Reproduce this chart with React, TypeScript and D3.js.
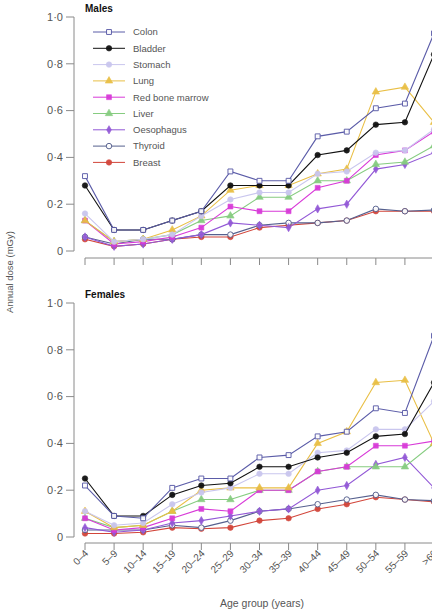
import * as d3 from 'd3'

// age groups on the x axis
const AGE_GROUPS = ['0–4', '5–9', '10–14', '15–19', '20–24', '25–29', '30–34', '35–39', '40–44', '45–49', '50–54', '55–59', '>60']

const ORGANS = ['Colon', 'Bladder', 'Stomach', 'Lung', 'Red bone marrow', 'Liver', 'Oesophagus', 'Thyroid', 'Breast']

const COLORS = ['#5b5ca8', '#111111', '#c9c6ee', '#e9bf45', '#d83ad8', '#86cc80', '#9258d6', '#56608e', '#d2453a']
const SYMBOLS = ['square', 'circle', 'circle', 'triangle', 'square', 'triangle', 'diamond', 'circle', 'circle']
const OPEN = [true, false, false, false, false, false, false, true, false]

// annual dose (mGy), males
const MALE_COLON = [0.32, 0.09, 0.09, 0.13, 0.17, 0.34, 0.30, 0.30, 0.49, 0.51, 0.61, 0.63, 0.93]
const MALE_BLADDER = [0.28, 0.09, 0.09, 0.13, 0.17, 0.28, 0.28, 0.28, 0.41, 0.43, 0.54, 0.55, 0.84]
const MALE_STOMACH = [0.16, 0.04, 0.05, 0.07, 0.15, 0.22, 0.25, 0.25, 0.33, 0.34, 0.42, 0.43, 0.52]
const MALE_LUNG = [0.13, 0.04, 0.05, 0.09, 0.15, 0.26, 0.28, 0.28, 0.33, 0.35, 0.68, 0.70, 0.55]
const MALE_MARROW = [0.13, 0.03, 0.04, 0.06, 0.10, 0.19, 0.17, 0.17, 0.27, 0.30, 0.41, 0.43, 0.51]
const MALE_LIVER = [0.13, 0.04, 0.05, 0.07, 0.13, 0.15, 0.23, 0.23, 0.30, 0.30, 0.37, 0.38, 0.45]
const MALE_OESOPHAGUS = [0.06, 0.02, 0.03, 0.05, 0.07, 0.12, 0.11, 0.10, 0.18, 0.20, 0.35, 0.37, 0.42]
const MALE_THYROID = [0.06, 0.03, 0.05, 0.05, 0.07, 0.07, 0.11, 0.12, 0.12, 0.13, 0.18, 0.17, 0.175]
const MALE_BREAST = [0.05, 0.02, 0.03, 0.05, 0.06, 0.06, 0.10, 0.11, 0.12, 0.13, 0.17, 0.17, 0.17]

// annual dose (mGy), females
const FEMALE_COLON = [0.22, 0.09, 0.08, 0.21, 0.25, 0.25, 0.34, 0.35, 0.43, 0.45, 0.55, 0.53, 0.86]
const FEMALE_BLADDER = [0.25, 0.09, 0.09, 0.18, 0.22, 0.23, 0.30, 0.30, 0.34, 0.36, 0.43, 0.44, 0.66]
const FEMALE_STOMACH = [0.11, 0.05, 0.06, 0.14, 0.19, 0.21, 0.27, 0.27, 0.36, 0.37, 0.46, 0.46, 0.58]
const FEMALE_LUNG = [0.11, 0.04, 0.05, 0.11, 0.20, 0.21, 0.21, 0.21, 0.40, 0.45, 0.66, 0.67, 0.40]
const FEMALE_MARROW = [0.08, 0.03, 0.04, 0.08, 0.12, 0.11, 0.20, 0.20, 0.28, 0.30, 0.39, 0.39, 0.41]
const FEMALE_LIVER = [0.08, 0.04, 0.05, 0.11, 0.16, 0.16, 0.20, 0.20, 0.28, 0.30, 0.30, 0.30, 0.40]
const FEMALE_OESOPHAGUS = [0.04, 0.02, 0.03, 0.06, 0.07, 0.09, 0.11, 0.12, 0.20, 0.22, 0.31, 0.34, 0.21]
const FEMALE_THYROID = [0.03, 0.03, 0.03, 0.05, 0.04, 0.07, 0.11, 0.12, 0.14, 0.16, 0.18, 0.16, 0.155]
const FEMALE_BREAST = [0.015, 0.015, 0.02, 0.04, 0.035, 0.04, 0.07, 0.08, 0.12, 0.14, 0.17, 0.16, 0.15]

const MALES = [MALE_COLON, MALE_BLADDER, MALE_STOMACH, MALE_LUNG, MALE_MARROW, MALE_LIVER, MALE_OESOPHAGUS, MALE_THYROID, MALE_BREAST]
const FEMALES = [FEMALE_COLON, FEMALE_BLADDER, FEMALE_STOMACH, FEMALE_LUNG, FEMALE_MARROW, FEMALE_LIVER, FEMALE_OESOPHAGUS, FEMALE_THYROID, FEMALE_BREAST]

const Y_TICKS = [0, 0.2, 0.4, 0.6, 0.8, 1.0]

const W = 432
const H = 615
const FONT = '"Liberation Sans", Arial, sans-serif'
const AXIS = '#8a8a8a'
const TEXT = '#555'

const x = d3.scalePoint<string>().domain(AGE_GROUPS).range([85, 434])
const symbolTypes: Record<string, d3.SymbolType> = {
  square: d3.symbolSquare,
  circle: d3.symbolCircle,
  triangle: d3.symbolTriangle,
  diamond: d3.symbolDiamond,
}
const fmt = (v: number) => (v === 0 ? '0' : d3.format('.1f')(v).replace('.', '·'))

function Marker({ i, cx, cy }: { i: number; cx: number; cy: number }) {
  const path = d3.symbol(symbolTypes[SYMBOLS[i]], SYMBOLS[i] === 'diamond' ? 20 : 24)() || ''
  return (
    <path
      d={path}
      transform={`translate(${cx},${cy})`}
      fill={OPEN[i] ? '#fff' : COLORS[i]}
      stroke={COLORS[i]}
      strokeWidth={OPEN[i] ? 1 : 0.6}
      opacity={0.95}
    />
  )
}

function Panel({ data, title, y0, y1, xAxisY, showLabels, legend }: {
  data: number[][]; title: string; y0: number; y1: number; xAxisY: number; showLabels: boolean; legend: boolean
}) {
  const y = d3.scaleLinear().domain([0, 1]).range([y0, y1])
  const line = d3.line<number>()
    .x((_, j) => x(AGE_GROUPS[j]) as number)
    .y(d => y(d))
  const order = d3.range(ORGANS.length).reverse()
  return (
    <g>
      {/* y axis */}
      <line x1={74} x2={74} y1={y(0)} y2={y(1)} stroke={AXIS} strokeWidth={1} />
      {Y_TICKS.map(t => (
        <g key={t}>
          <line x1={66} x2={74} y1={y(t)} y2={y(t)} stroke={AXIS} />
          <text x={63} y={y(t)} dy="0.35em" textAnchor="end" fontSize={11} fill={TEXT} fontFamily={FONT}>{fmt(t)}</text>
        </g>
      ))}
      {/* x axis */}
      <line x1={x(AGE_GROUPS[0])} x2={W} y1={xAxisY} y2={xAxisY} stroke={AXIS} />
      {AGE_GROUPS.map(a => (
        <g key={a}>
          <line x1={x(a)} x2={x(a)} y1={xAxisY} y2={xAxisY + 7} stroke={AXIS} />
          {showLabels && (
            <text
              transform={`translate(${(x(a) as number) + 4},${xAxisY + 11}) rotate(-45)`}
              textAnchor="end"
              fontSize={10}
              fill={TEXT}
              fontFamily={FONT}
            >{a}</text>
          )}
        </g>
      ))}
      <text x={85} y={y(1) - 5} fontSize={10} fontWeight="bold" fill="#111" fontFamily={FONT}>{title}</text>
      {/* series */}
      {order.map(i => (
        <g key={ORGANS[i]}>
          <path d={line(data[i]) || ''} fill="none" stroke={COLORS[i]} strokeWidth={1.1} />
          {data[i].map((v, j) => (
            <Marker key={j} i={i} cx={x(AGE_GROUPS[j]) as number} cy={y(v)} />
          ))}
        </g>
      ))}
      {legend && ORGANS.map((o, i) => {
        const ly = 32 + i * 16.3
        return (
          <g key={o}>
            <line x1={93} x2={125} y1={ly} y2={ly} stroke={COLORS[i]} strokeWidth={1} />
            <Marker i={i} cx={109} cy={ly} />
            <text x={133} y={ly} dy="0.35em" fontSize={9.5} fill={TEXT} fontFamily={FONT}>{o}</text>
          </g>
        )
      })}
    </g>
  )
}

export default function App() {
  return (
    <svg width={W} height={H} style={{ position: 'absolute', left: 0, top: 0, background: '#fff' }}>
      <rect width={W} height={H} fill="#fff" />
      <Panel data={MALES} title="Males" y0={251} y1={17} xAxisY={258} showLabels={false} legend={true} />
      <Panel data={FEMALES} title="Females" y0={537} y1={303} xAxisY={543} showLabels={true} legend={false} />
      <text
        transform="translate(13,272) rotate(-90)"
        textAnchor="middle"
        fontSize={9.5}
        fill={TEXT}
        fontFamily={FONT}
      >Annual dose (mGy)</text>
      <text x={262} y={607} textAnchor="middle" fontSize={10.5} fill={TEXT} fontFamily={FONT}>Age group (years)</text>
    </svg>
  )
}
